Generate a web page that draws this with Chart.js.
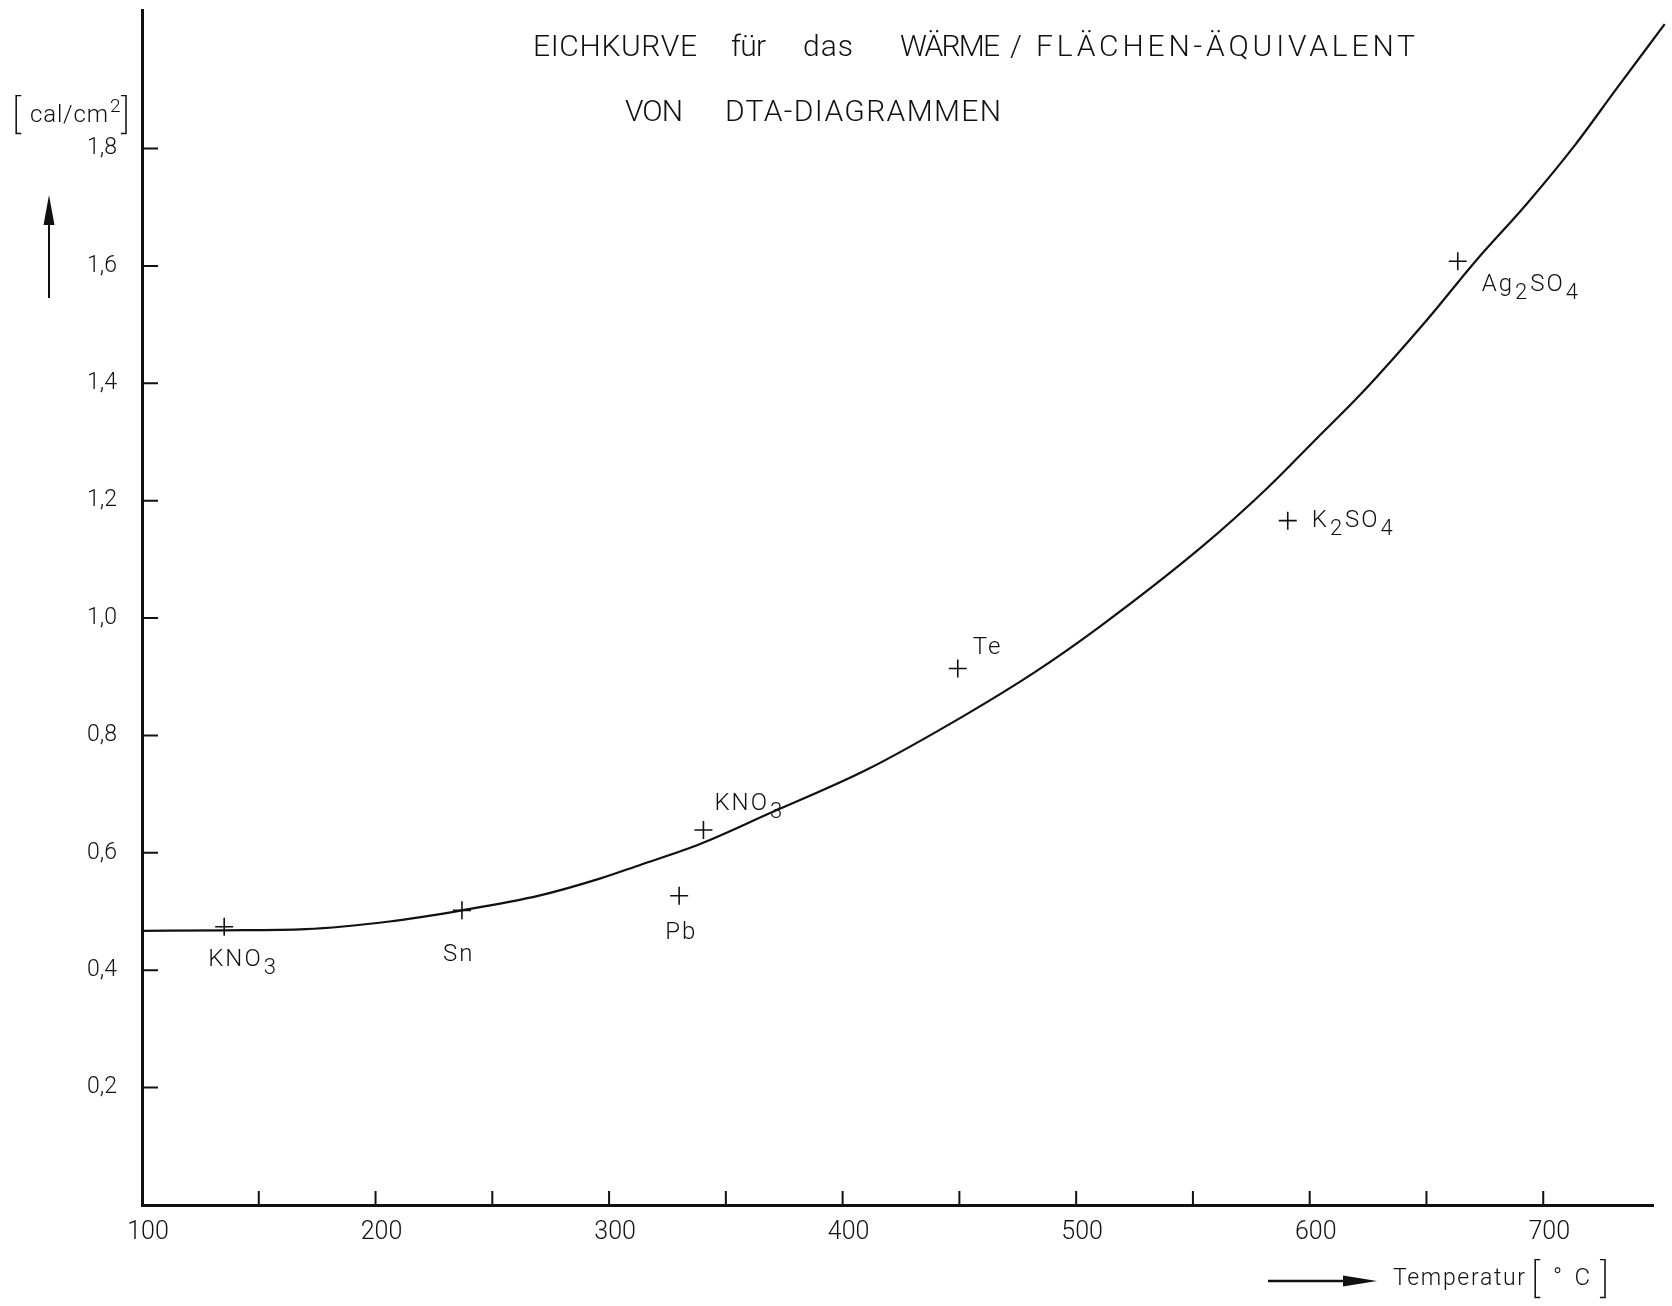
<!DOCTYPE html>
<html>
<head>
<meta charset="utf-8">
<script src="https://cdn.jsdelivr.net/npm/chart.js@4.4.1/dist/chart.umd.min.js"></script>
<style>
  html, body { margin: 0; padding: 0; background: #ffffff; }
  #wrap { width: 1672px; height: 1306px; position: relative; }
  canvas { display: block; }
</style>
</head>
<body>
<div id="wrap"><canvas id="c" width="1672" height="1306"></canvas></div>
<script>
// ---------------- DATA ----------------
const curveTemps  = [100, 135, 170, 206, 237, 270, 296, 313, 339, 368, 410, 453, 482, 510, 554, 582, 603, 622, 650, 671, 693, 714, 731, 752];
const curveValues = [0.467, 0.468, 0.470, 0.483, 0.502, 0.527, 0.556, 0.579, 0.615, 0.666, 0.741, 0.836, 0.907, 0.985, 1.122, 1.222, 1.306, 1.382, 1.507, 1.608, 1.706, 1.808, 1.900, 2.012];

const pointNames  = ['KNO3', 'Sn', 'Pb', 'KNO3', 'Te', 'K2SO4', 'Ag2SO4'];
const pointTemps  = [135.2, 237, 330, 340.4, 449.3, 590.6, 663.4];
const pointValues = [0.474, 0.502, 0.527, 0.639, 0.914, 1.166, 1.608];

const xTickValues = [150, 200, 250, 300, 350, 400, 450, 500, 550, 600, 650, 700];
const xLabelValues = [100, 200, 300, 400, 500, 600, 700];
const xLabelTexts  = ['100', '200', '300', '400', '500', '600', '700'];
const yTickValues = [0.2, 0.4, 0.6, 0.8, 1.0, 1.2, 1.4, 1.6, 1.8];
const yLabelTexts = ['0,2', '0,4', '0,6', '0,8', '1,0', '1,2', '1,4', '1,6', '1,8'];

const titleLine1 = ['EICHKURVE', 'für', 'das', 'WÄRME', '/', 'FLÄCHEN-ÄQUIVALENT'];
const titleLine2 = ['VON', 'DTA-DIAGRAMMEN'];
const yUnitText = 'cal/cm';
const xAxisText = 'Temperatur';
const xUnitText = '°C';

// ---------------- STYLE / LAYOUT ----------------
const INK = '#111111';
const FAMILY = 'Roboto, "DejaVu Sans", sans-serif';
const X_MIN = 100, X_MAX = 747, Y_MIN = 0, Y_MAX = 2.035;

const title1Spans = [[533, 697], [731, 766], [803, 853], [900, 1000], [1010, 1019], [1036, 1415]];
const title2Spans = [[625, 683], [725, 1001]];
const labelOffsets = [[-16, 39], [-19, 51], [-14, 43], [11, -20], [15, -15], [24, 6], [24, 30]];

function drawFitted(ctx, text, x0, x1, baseline, font) {
  ctx.font = font;
  ctx.letterSpacing = '0px';
  const w = ctx.measureText(text).width;
  const n = [...text].length;
  const ls = n > 1 ? (x1 - x0 - w) / (n - 1) : 0;
  ctx.letterSpacing = ls.toFixed(2) + 'px';
  ctx.textAlign = 'left';
  ctx.textBaseline = 'alphabetic';
  ctx.fillText(text, x0, baseline);
  ctx.letterSpacing = '0px';
}

function drawFormula(ctx, text, x, baseline, size) {
  const parts = text.match(/[A-Za-z]+|\d+/g);
  let cx = x;
  ctx.textAlign = 'left';
  ctx.textBaseline = 'alphabetic';
  ctx.letterSpacing = '2px';
  parts.forEach(p => {
    const isSub = /^\d+$/.test(p);
    ctx.font = '300 ' + (isSub ? Math.round(size * 0.9) : size) + 'px ' + FAMILY;
    ctx.fillText(p, cx, baseline + (isSub ? 8 : 0));
    cx += ctx.measureText(p).width + 1;
  });
  ctx.letterSpacing = '0px';
}

const decor = {
  id: 'decor',
  afterDraw(chart) {
    const { ctx, chartArea: a, scales } = chart;
    const xs = scales.x, ys = scales.y;
    ctx.save();
    ctx.strokeStyle = INK;
    ctx.fillStyle = INK;
    ctx.lineCap = 'butt';

    // inner tick marks
    ctx.lineWidth = 2;
    ctx.beginPath();
    xTickValues.forEach(v => {
      const px = xs.getPixelForValue(v);
      ctx.moveTo(px, a.bottom);
      ctx.lineTo(px, a.bottom - 14);
    });
    yTickValues.forEach(v => {
      const py = ys.getPixelForValue(v);
      ctx.moveTo(a.left, py);
      ctx.lineTo(a.left + 16, py);
    });
    ctx.stroke();

    // point labels
    pointNames.forEach((name, i) => {
      const px = xs.getPixelForValue(pointTemps[i]);
      const py = ys.getPixelForValue(pointValues[i]);
      const off = labelOffsets[i];
      drawFormula(ctx, name, px + off[0], py + off[1], 24);
    });

    // title
    const tFont = '300 30px ' + FAMILY;
    titleLine1.forEach((w, i) => drawFitted(ctx, w, title1Spans[i][0], title1Spans[i][1], 56, tFont));
    titleLine2.forEach((w, i) => drawFitted(ctx, w, title2Spans[i][0], title2Spans[i][1], 121, tFont));

    // y unit label  [cal/cm²]
    ctx.textAlign = 'left';
    ctx.textBaseline = 'alphabetic';
    ctx.font = '200 40px ' + FAMILY;
    ctx.fillText('[', 12, 128);
    ctx.fillText(']', 121, 128);
    drawFitted(ctx, yUnitText, 30, 108, 122, '300 24px ' + FAMILY);
    ctx.font = '300 19px ' + FAMILY;
    ctx.fillText('2', 110, 112);

    // y arrow
    ctx.lineWidth = 2;
    ctx.beginPath();
    ctx.moveTo(49, 298); ctx.lineTo(49, 222);
    ctx.stroke();
    ctx.beginPath();
    ctx.moveTo(43.5, 225); ctx.lineTo(49, 195); ctx.lineTo(54.5, 225); ctx.closePath();
    ctx.fill();

    // x arrow + label
    ctx.lineWidth = 2.5;
    ctx.beginPath();
    ctx.moveTo(1268, 1281); ctx.lineTo(1347, 1281);
    ctx.stroke();
    ctx.beginPath();
    ctx.moveTo(1343, 1275.5); ctx.lineTo(1377, 1281); ctx.lineTo(1343, 1286.5); ctx.closePath();
    ctx.fill();
    drawFitted(ctx, xAxisText, 1393, 1525, 1285, '300 23px ' + FAMILY);
    ctx.font = '200 40px ' + FAMILY;
    ctx.fillText('[', 1531, 1292);
    ctx.fillText(']', 1600, 1292);
    drawFitted(ctx, xUnitText, 1553, 1590, 1285, '300 24px ' + FAMILY);

    ctx.restore();
  }
};

const curveData = curveTemps.map((t, i) => ({ x: t, y: curveValues[i] }));
const pointData = pointTemps.map((t, i) => ({ x: t, y: pointValues[i] }));

new Chart(document.getElementById('c'), {
  type: 'scatter',
  data: {
    datasets: [
      {
        label: 'Eichkurve',
        data: curveData,
        showLine: true,
        borderColor: INK,
        borderWidth: 2.2,
        pointRadius: 0,
        pointHoverRadius: 0,
        cubicInterpolationMode: 'monotone',
        capBezierPoints: false,
        clip: false,
        fill: false
      },
      {
        label: 'Messpunkte',
        data: pointData,
        showLine: false,
        pointStyle: 'cross',
        pointRadius: 9,
        pointBorderWidth: 1.6,
        pointBorderColor: INK,
        pointBackgroundColor: INK,
        borderColor: INK
      }
    ]
  },
  options: {
    responsive: false,
    animation: false,
    events: [],
    layout: { padding: { top: 6, right: 19, left: 0, bottom: 0 } },
    plugins: {
      legend: { display: false },
      title: { display: false },
      tooltip: { enabled: false }
    },
    scales: {
      x: {
        type: 'linear',
        min: X_MIN,
        max: X_MAX,
        afterFit(s) { s.height = 101; s.paddingLeft = 0; s.paddingRight = 0; },
        grid: { display: false, drawTicks: false },
        border: { display: true, color: INK, width: 3 },
        ticks: {
          stepSize: 50,
          autoSkip: false,
          maxRotation: 0,
          padding: 13,
          labelOffset: 6,
          color: INK,
          font: { family: FAMILY, size: 25, weight: '300' },
          callback: (v) => {
            const i = xLabelValues.findIndex(t => Math.abs(t - v) < 1e-6);
            return i >= 0 ? xLabelTexts[i] : '';
          }
        }
      },
      y: {
        type: 'linear',
        min: Y_MIN,
        max: Y_MAX,
        afterFit(s) { s.width = 142; s.paddingTop = 0; s.paddingBottom = 0; },
        grid: { display: false, drawTicks: false },
        border: { display: true, color: INK, width: 3 },
        ticks: {
          stepSize: 0.2,
          autoSkip: false,
          padding: 25,
          color: INK,
          font: { family: FAMILY, size: 23, weight: '300' },
          callback: (v) => {
            const i = yTickValues.findIndex(t => Math.abs(t - v) < 1e-6);
            return i >= 0 ? yLabelTexts[i] : '';
          }
        }
      }
    }
  },
  plugins: [decor]
});
</script>
</body>
</html>
